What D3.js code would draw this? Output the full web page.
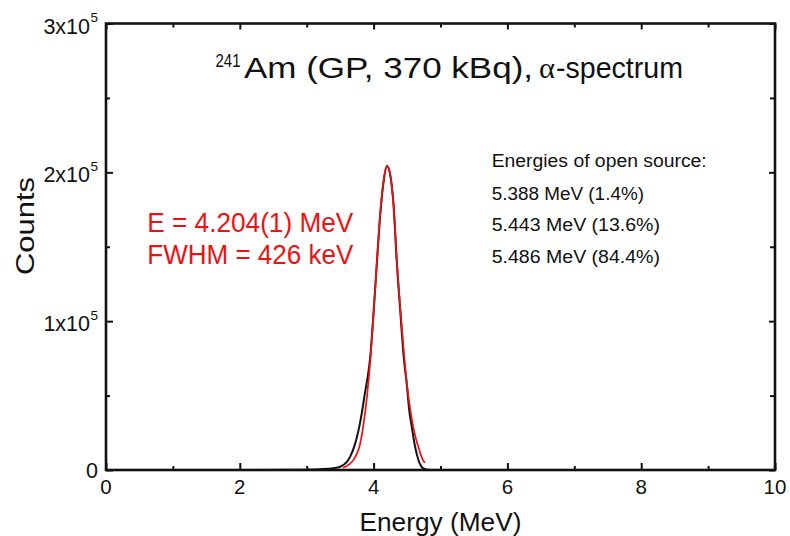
<!DOCTYPE html>
<html><head><meta charset="utf-8">
<script src="https://cdn.jsdelivr.net/npm/d3@7"></script>
<style>
html,body{margin:0;padding:0;background:#fff;}
svg text{font-family:"Liberation Sans",Arial,sans-serif;}
</style></head>
<body><svg id="c" width="790" height="536"></svg>
<script>
// ---- data ----
const xMajorTicks = [0, 2, 4, 6, 8, 10];
const xMinorTicks = [1, 3, 5, 7, 9];
const yMajorTicks = [0, 1e5, 2e5, 3e5];
const yMinorTicks = [0.5e5, 1.5e5, 2.5e5];
const yTickMantissa = ["0", "1x10", "2x10", "3x10"];
const yTickExponent = ["", "5", "5", "5"];

const measuredEnergy = [0, 2.0, 2.8, 3.0, 3.2, 3.4, 3.5, 3.6, 3.65, 3.71, 3.75, 3.79, 3.83, 3.87, 3.91, 3.95, 4.00, 4.05, 4.10, 4.15, 4.20, 4.25, 4.30, 4.345, 4.40, 4.45, 4.50, 4.53, 4.57, 4.62, 4.67, 4.71, 4.75, 4.80, 4.9, 6.0, 10];
const measuredCounts = [0, 0, 100, 200, 500, 1200, 2200, 5500, 9000, 15700, 22000, 30000, 40000, 51700, 62000, 76000, 106000, 140000, 172000, 194000, 204300, 198000, 177000, 141000, 106000, 76000, 56000, 41000, 29100, 15700, 6700, 2600, 900, 200, 0, 0, 0];

const fitEnergy = [3.54, 3.62, 3.70, 3.75, 3.79, 3.84, 3.90, 3.95, 4.00, 4.05, 4.10, 4.15, 4.204, 4.25, 4.30, 4.345, 4.40, 4.45, 4.51, 4.55, 4.59, 4.63, 4.668, 4.70, 4.734, 4.768];
const fitCounts = [1500, 3300, 6800, 11000, 16000, 28000, 49000, 73000, 106000, 140000, 173000, 195000, 204300, 198000, 177000, 142000, 108000, 80000, 53000, 40000, 29500, 21500, 15700, 11000, 7000, 4900];

const titleIsotope = "241";
const titleParts = ["Am (GP, 370 kBq),", "\u03B1", "-spectrum"];
const fitLabels = ["E = 4.204(1) MeV", "FWHM = 426 keV"];
const sourceLines = ["Energies of open source:", "5.388 MeV (1.4%)", "5.443 MeV (13.6%)", "5.486 MeV (84.4%)"];
const xLabel = "Energy (MeV)";
const yLabel = "Counts";

// ---- chart ----
const svg = d3.select("#c");
const L = 106, R = 775, T = 23.5, B = 470;
const x = d3.scaleLinear().domain([0, 10]).range([L, R]);
const y = d3.scaleLinear().domain([0, 3e5]).range([B, T]);
const ink = "#111", red = "#ee1111";

// curves
const measured = measuredEnergy.map((e, i) => [e, measuredCounts[i]]);
const fit = fitEnergy.map((e, i) => [e, fitCounts[i]]);
const line = d3.line().x(d => x(d[0])).y(d => y(d[1])).curve(d3.curveMonotoneX);
svg.append("path").attr("d", line(measured)).attr("fill", "none").attr("stroke", ink).attr("stroke-width", 2);
svg.append("path").attr("d", line(fit)).attr("fill", "none").attr("stroke", red).attr("stroke-width", 1.7);

// axes (ticks inward)
function axis(gen, tr, vals, size) {
  const g = svg.append("g").attr("transform", tr)
    .call(gen.tickValues(vals).tickSize(size).tickFormat(""));
  g.select(".domain").remove();
  g.selectAll("line").attr("stroke", ink).attr("stroke-width", 2);
}
axis(d3.axisBottom(x), `translate(0,${B})`, xMajorTicks, -7);
axis(d3.axisBottom(x), `translate(0,${B})`, xMinorTicks, -4);
axis(d3.axisTop(x), `translate(0,${T})`, xMajorTicks, -6);
axis(d3.axisTop(x), `translate(0,${T})`, xMinorTicks, -4);
axis(d3.axisLeft(y), `translate(${L},0)`, yMajorTicks, -7);
axis(d3.axisLeft(y), `translate(${L},0)`, yMinorTicks, -4);
axis(d3.axisRight(y), `translate(${R},0)`, yMajorTicks, -6);
axis(d3.axisRight(y), `translate(${R},0)`, yMinorTicks, -5);
svg.append("rect").attr("x", L).attr("y", T).attr("width", R - L).attr("height", B - T)
  .attr("fill", "none").attr("stroke", ink).attr("stroke-width", 2.6);

// tick labels
svg.append("g").selectAll("text").data(xMajorTicks).join("text")
  .attr("x", d => x(d)).attr("y", B + 24).attr("text-anchor", "middle")
  .attr("font-size", 20.5).attr("fill", ink).text(d => d);
yMajorTicks.forEach((v, i) => {
  if (yTickExponent[i]) {
    svg.append("text").attr("x", L - 16).attr("y", y(v) + 10).attr("text-anchor", "end")
      .attr("font-size", 21.5).attr("fill", ink).text(yTickMantissa[i]);
    svg.append("text").attr("x", L - 15.5).attr("y", y(v) - 1.5).attr("font-size", 13.5)
      .attr("fill", ink).text(yTickExponent[i]);
  } else {
    svg.append("text").attr("x", L - 8).attr("y", y(v) + 8).attr("text-anchor", "end")
      .attr("font-size", 21.5).attr("fill", ink).text(yTickMantissa[i]);
  }
});

// axis titles
svg.append("text").attr("transform", "translate(33.5,226) rotate(-90)")
  .attr("text-anchor", "middle").attr("font-size", 26).attr("textLength", 98).attr("lengthAdjust", "spacingAndGlyphs")
  .attr("fill", ink).text(yLabel);
svg.append("text").attr("x", (L + R) / 2).attr("y", 531).attr("text-anchor", "middle")
  .attr("font-size", 26).attr("textLength", 162).attr("lengthAdjust", "spacingAndGlyphs")
  .attr("fill", ink).text(xLabel);

// title
svg.append("text").attr("x", 215.5).attr("y", 66.5).attr("font-size", 17.5)
  .attr("textLength", 25).attr("lengthAdjust", "spacingAndGlyphs").attr("fill", ink).text(titleIsotope);
const tX = [244, 539, 556], tW = [289, 16, 127];
titleParts.forEach((s, i) => {
  svg.append("text").attr("x", tX[i]).attr("y", 78).attr("font-size", 29)
    .attr("textLength", tW[i]).attr("lengthAdjust", "spacingAndGlyphs")
    .style("font-family", i === 1 ? "'Liberation Serif',serif" : null)
    .attr("fill", ink).text(s);
});

// fit labels
const fitY = [231.5, 264];
fitLabels.forEach((s, i) => {
  svg.append("text").attr("x", 147.3).attr("y", fitY[i]).attr("font-size", 27)
    .attr("textLength", 206).attr("lengthAdjust", "spacingAndGlyphs")
    .attr("fill", red).text(s);
});

// source energies
const srcY = [167, 199.5, 231, 263], srcW = [215, 152.3, 168.3, 168.3];
sourceLines.forEach((s, i) => {
  svg.append("text").attr("x", 491.7).attr("y", srcY[i]).attr("font-size", 18)
    .attr("textLength", srcW[i]).attr("lengthAdjust", "spacingAndGlyphs")
    .attr("fill", ink).text(s);
});
</script></body></html>
